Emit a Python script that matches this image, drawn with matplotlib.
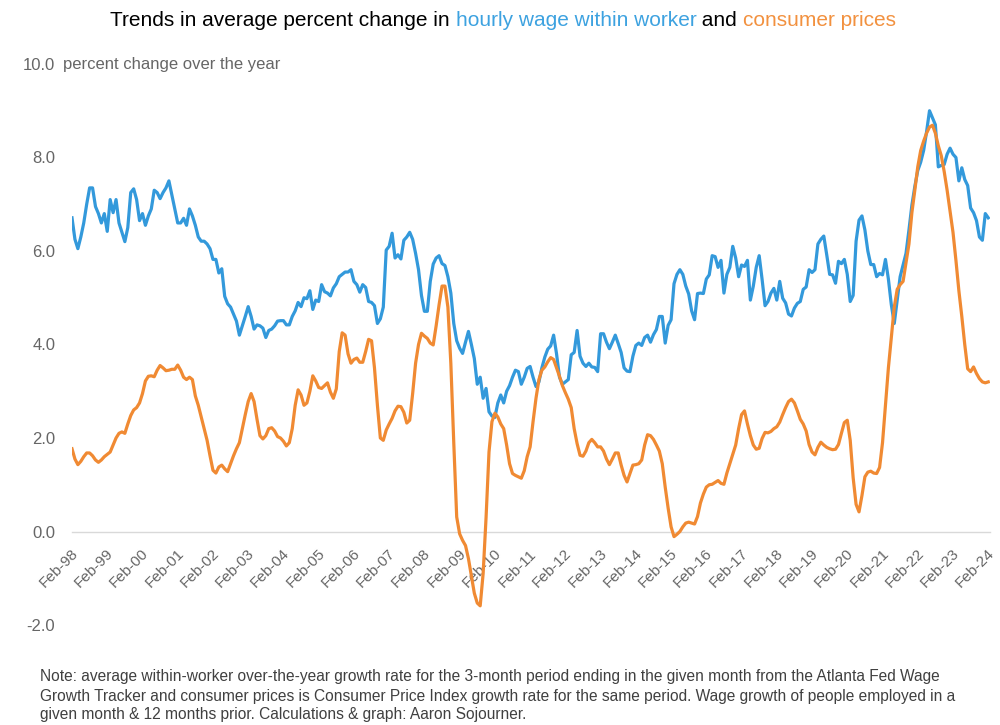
import matplotlib
matplotlib.use("Agg")
import matplotlib.pyplot as plt
import matplotlib.transforms as mtransforms
import pandas as pd

# ---- data (monthly, Feb-1998 .. Feb-2024) ----
start_month = "1998-02"
wage_growth = [
    6.71, 6.25, 6.05, 6.3, 6.6, 7.0, 7.35, 7.35, 6.95, 6.8, 6.6, 6.8,
    6.42, 7.1, 6.82, 7.1, 6.6, 6.4, 6.2, 6.5, 7.25, 7.33, 7.1, 6.65,
    6.8, 6.55, 6.75, 6.9, 7.3, 7.25, 7.12, 7.25, 7.35, 7.5, 7.2, 6.9,
    6.6, 6.6, 6.7, 6.55, 6.9, 6.75, 6.55, 6.3, 6.21, 6.21, 6.15, 6.05,
    5.82, 5.82, 5.53, 5.62, 5.03, 4.87, 4.8, 4.65, 4.5, 4.2, 4.4, 4.6,
    4.81, 4.6, 4.33, 4.42, 4.4, 4.35, 4.15, 4.3, 4.33, 4.4, 4.5, 4.51,
    4.51, 4.42, 4.42, 4.6, 4.72, 4.9, 4.81, 5.0, 4.98, 5.15, 4.75, 4.95,
    4.92, 5.28, 5.13, 5.1, 5.04, 5.21, 5.3, 5.45, 5.5, 5.55, 5.55, 5.6,
    5.35, 5.28, 5.12, 5.28, 5.22, 4.92, 4.9, 4.83, 4.45, 4.55, 4.8, 6.02,
    6.1, 6.38, 5.85, 5.92, 5.83, 6.23, 6.3, 6.4, 6.25, 5.95, 5.6, 5.05,
    4.71, 4.71, 5.35, 5.72, 5.85, 5.9, 5.73, 5.69, 5.45, 5.1, 4.45, 4.08,
    3.92, 3.81, 4.05, 4.28, 4.0, 3.7, 3.15, 3.3, 2.85, 3.06, 2.56, 2.47,
    2.44, 2.75, 2.92, 2.75, 3.0, 3.12, 3.3, 3.45, 3.42, 3.15, 3.3, 3.49,
    3.53, 3.3, 3.1, 3.2, 3.5, 3.73, 3.9, 3.97, 4.2, 3.8, 3.3, 3.15,
    3.2, 3.25, 3.78, 3.83, 4.3, 3.75, 3.6, 3.53, 3.6, 3.52, 3.51, 3.42,
    4.23, 4.23, 4.05, 3.91, 4.05, 4.2, 4.02, 3.83, 3.5, 3.43, 3.42, 3.75,
    3.98, 4.03, 3.98, 4.15, 4.2, 4.05, 4.21, 4.32, 4.6, 4.6, 4.03, 4.41,
    4.53, 5.3, 5.5, 5.6, 5.5, 5.25, 5.08, 4.72, 4.53, 5.09, 5.1, 5.09,
    5.4, 5.49, 5.9, 5.88, 5.65, 5.8, 5.1, 5.5, 5.65, 6.1, 5.85, 5.45,
    5.7, 5.67, 5.8, 4.95, 5.25, 5.65, 5.9, 5.39, 4.83, 4.92, 5.1, 5.2,
    4.95, 5.35, 4.99, 4.89, 4.65, 4.61, 4.78, 4.88, 4.92, 5.18, 5.23, 5.6,
    5.54, 5.6, 6.15, 6.25, 6.32, 5.92, 5.5, 5.49, 5.31, 5.78, 5.73, 5.82,
    5.5, 4.92, 5.05, 6.21, 6.66, 6.75, 6.45, 6.0, 5.71, 5.71, 5.45, 5.52,
    5.49, 5.82, 5.4, 4.85, 4.45, 4.95, 5.45, 5.7, 5.95, 6.45, 6.98, 7.38,
    7.72, 7.9, 8.15, 8.55, 9.0, 8.85, 8.7, 7.8, 7.83, 7.85, 8.07, 8.2,
    8.07, 8.0, 7.5, 7.78, 7.53, 7.4, 6.92, 6.82, 6.65, 6.3, 6.23, 6.8,
    6.71,
]
cpi_growth = [
    1.77, 1.55, 1.43, 1.5, 1.6, 1.68, 1.68, 1.62, 1.53, 1.48, 1.53, 1.6,
    1.65, 1.70, 1.85, 2.0, 2.1, 2.13, 2.1, 2.3, 2.48, 2.6, 2.65, 2.75,
    2.95, 3.22, 3.32, 3.33, 3.31, 3.45, 3.55, 3.5, 3.44, 3.45, 3.47, 3.47,
    3.56, 3.45, 3.3, 3.25, 3.3, 3.25, 2.9, 2.7, 2.45, 2.2, 1.95, 1.62,
    1.31, 1.25, 1.38, 1.42, 1.34, 1.28, 1.45, 1.62, 1.77, 1.9, 2.2, 2.5,
    2.78, 2.95, 2.78, 2.4, 2.05, 1.98, 2.05, 2.2, 2.22, 2.15, 2.03, 2.0,
    1.93, 1.83, 1.9, 2.2, 2.7, 3.03, 2.92, 2.7, 2.75, 3.0, 3.33, 3.22,
    3.08, 3.06, 3.12, 3.18, 2.98, 2.85, 3.05, 3.85, 4.25, 4.2, 3.8, 3.6,
    3.68, 3.71, 3.62, 3.62, 3.85, 4.11, 4.08, 3.5, 2.7, 2.0, 1.95, 2.17,
    2.3, 2.42, 2.58, 2.68, 2.67, 2.55, 2.32, 2.38, 2.95, 3.6, 4.0, 4.24,
    4.18, 4.13, 4.03, 3.99, 4.4, 4.85, 5.25, 5.25, 4.8, 3.6, 1.9, 0.31,
    -0.05, -0.19, -0.3, -0.58, -0.95, -1.32, -1.53, -1.59, -0.9, 0.3, 1.7, 2.35,
    2.53, 2.45, 2.3, 2.2, 1.85, 1.45, 1.24, 1.2, 1.17, 1.14, 1.3, 1.6,
    1.81, 2.35, 2.85, 3.25, 3.45, 3.52, 3.63, 3.72, 3.68, 3.5, 3.32, 3.12,
    2.97, 2.83, 2.65, 2.2, 1.88, 1.63, 1.61, 1.72, 1.9, 1.97, 1.9, 1.81,
    1.81, 1.72, 1.55, 1.43, 1.55, 1.68, 1.68, 1.42, 1.2, 1.06, 1.24, 1.42,
    1.43, 1.45, 1.53, 1.85, 2.07, 2.05, 1.97, 1.85, 1.72, 1.45, 0.95, 0.5,
    0.1, -0.11, -0.06, 0.0, 0.1, 0.18, 0.2, 0.18, 0.16, 0.32, 0.61, 0.8,
    0.95, 1.0, 1.01, 1.05, 1.09, 1.03, 1.01, 1.25, 1.45, 1.65, 1.85, 2.2,
    2.5, 2.58, 2.3, 2.05, 1.85, 1.76, 1.78, 1.99, 2.12, 2.11, 2.14, 2.2,
    2.24, 2.34, 2.5, 2.65, 2.78, 2.83, 2.75, 2.58, 2.4, 2.3, 2.15, 1.86,
    1.7, 1.64, 1.8, 1.91, 1.85, 1.8, 1.77, 1.75, 1.76, 1.86, 2.1, 2.33,
    2.38, 1.95, 1.15, 0.58, 0.42, 0.77, 1.17, 1.27, 1.29, 1.25, 1.24, 1.37,
    1.9, 2.7, 3.5, 4.15, 4.8, 5.18, 5.28, 5.35, 5.75, 6.15, 6.82, 7.3,
    7.8, 8.15, 8.35, 8.52, 8.65, 8.69, 8.52, 8.25, 8.04, 7.7, 7.3, 6.85,
    6.4, 5.8, 5.15, 4.6, 4.0, 3.48, 3.42, 3.52, 3.38, 3.27, 3.2, 3.18,
    3.2,
]
y_ticks = [-2, 0, 2, 4, 6, 8, 10]
y_unit_label = "percent change over the year"
title_parts = [
    ("Trends in average percent change in ", "#000000"),
    ("hourly wage within worker", "#3DA2E0"),
    (" and ", "#000000"),
    ("consumer prices", "#F2913F"),
]
note_lines = [
    "Note: average within-worker over-the-year growth rate for the 3-month period ending in the given month from the Atlanta Fed Wage",
    "Growth Tracker and consumer prices is Consumer Price Index growth rate for the same period. Wage growth of people employed in a",
    "given month & 12 months prior. Calculations & graph: Aaron Sojourner.",
]

dates = pd.date_range(start_month, periods=len(wage_growth), freq="MS")
x = list(range(len(dates)))
tick_idx = [i for i, d in enumerate(dates) if d.month == 2]
tick_labels = [dates[i].strftime("%b-%y") for i in tick_idx]

plt.rcParams["font.family"] = ["Liberation Sans", "DejaVu Sans"]
BLUE = "#3399DB"
ORANGE = "#F08A33"
GREY = "#666666"

fig = plt.figure(figsize=(10, 7.25), dpi=100)
ax = fig.add_axes([0.072, 1 - 625 / 725, 0.918, (625 - 64) / 725])

ax.plot(x, wage_growth, color=BLUE, lw=2.3, solid_joinstyle="round", zorder=3)
ax.plot(x, cpi_growth, color=ORANGE, lw=2.3, solid_joinstyle="round", zorder=4)

ax.set_xlim(0, len(x) - 1 + 0.6)
ax.set_ylim(-2, 10)
ax.set_yticks(y_ticks)
ax.set_yticklabels([f"{v:.1f}" for v in y_ticks])
ax.tick_params(axis="y", length=0, pad=12, labelsize=12, labelcolor=GREY)

for s in ["top", "right", "left"]:
    ax.spines[s].set_visible(False)
ax.spines["bottom"].set_position(("data", 0))
ax.spines["bottom"].set_color("#D9D9D9")
ax.spines["bottom"].set_linewidth(1.0)
ax.set_xticks([])

# rotated category labels under the zero line
off = mtransforms.offset_copy(ax.transData, fig=fig, x=-1, y=-15, units="dots")
for i, lab in zip(tick_idx, tick_labels):
    ax.text(i, 0, lab, transform=off, rotation=45, ha="right", va="top",
            rotation_mode="anchor", fontsize=11, color=GREY, clip_on=False)

# unit label next to the top tick
fig.text(63 / 1000, 1 - 64 / 725, y_unit_label, ha="left", va="center",
         fontsize=12, color=GREY)

# multi-coloured title
fig.canvas.draw()
renderer = fig.canvas.get_renderer()
texts = []
for t, c in title_parts:
    texts.append(fig.text(0, 1 - 20 / 725, t, color=c, fontsize=15, ha="left", va="center"))
widths = [tt.get_window_extent(renderer).width for tt in texts]
total = sum(widths)
xpos = 503 - total / 2
for tt, w in zip(texts, widths):
    tt.set_x(xpos / 1000)
    xpos += w

note_y = [677, 696, 714]
for line, yy in zip(note_lines, note_y):
    fig.text(40 / 1000, 1 - yy / 725, line, ha="left", va="center", fontsize=11.2,
             color="#404040")

fig.savefig("out.png", dpi=100, facecolor="white")
